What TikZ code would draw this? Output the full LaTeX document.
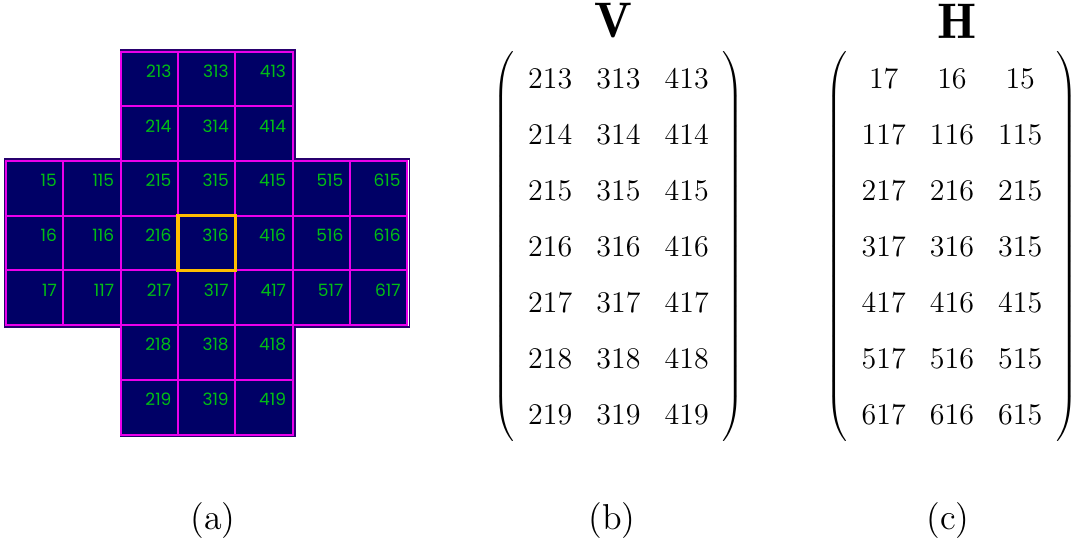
\documentclass[tikz,border=0pt]{standalone}
\usepackage{fontspec}
\usetikzlibrary{matrix}
\newfontfamily\cellfont{Poppins}
\definecolor{gridbg}{RGB}{0,0,102}
\definecolor{gridline}{RGB}{235,0,235}
\definecolor{gridtxt}{RGB}{0,190,20}
\definecolor{gridedge}{RGB}{40,0,110}
\definecolor{hilite}{RGB}{255,190,0}
\tikzset{
  cell/.style={draw=gridline, fill=gridbg, line width=0.8pt, inner sep=0pt, outer sep=0pt,
    minimum width=22.92pt, minimum height=21.88pt},
  celllbl/.style={text=gridtxt, font=\cellfont\fontsize{6.8}{8}\selectfont, inner sep=0pt, anchor=base east},
  every left delimiter/.style={xshift=4pt},
  every right delimiter/.style={xshift=-4pt},
  mat/.style={matrix of math nodes, row sep=6.4pt, column sep=0pt,
    left delimiter=(, right delimiter=),
    nodes={inner sep=0pt, minimum height=16pt, minimum width=27.3pt,
      font=\fontsize{12}{14}\selectfont}},
  ttl/.style={font=\fontsize{20}{24}\selectfont},
  subcap/.style={font=\fontsize{14.4}{17}\selectfont}
}
\begin{document}
\begin{tikzpicture}[x=0.4pt, y=-0.4pt]
  \useasboundingbox (0,0) rectangle (1074,546);
  % (a) the neighbourhood grid
  \draw[gridedge, line width=0.6pt] (120.5,50.2) rectangle (295,436);
  \draw[gridedge, line width=0.6pt] (4.8,159.2) rectangle (409.5,327);
  \foreach \i in {2,3,4}
    \foreach \j in {0,...,6}
      \node[cell] (c-\i-\j) at ({6+57.3*(\i+0.5)},{51.7+54.7*(\j+0.5)}) {};
  \foreach \i in {0,1,5,6}
    \foreach \j in {2,3,4}
      \node[cell] (c-\i-\j) at ({6+57.3*(\i+0.5)},{51.7+54.7*(\j+0.5)}) {};
  \foreach \i in {0,...,6}
    \foreach \j in {0,...,6}{
      \pgfmathtruncatemacro\inarm{(\i>1 && \i<5) || (\j>1 && \j<5)}
      \ifnum\inarm=1
        \pgfmathtruncatemacro\lab{100*\i+13+\j}
        \node[celllbl] (l-\i-\j) at ([xshift=-2.4pt, yshift=-10.3pt]c-\i-\j.north east) {\lab};
      \fi
    }
  \draw[hilite, line width=1.3pt] (c-3-3.north west) rectangle (c-3-3.south east);
  \node[subcap] (capa) at (213,521) {(a)};

  % (b) vertical stack
  \node[ttl] (Vt) at (613,21) {$\mathbf{V}$};
  \matrix (V) [mat] at (618.5,246.5) {
    213 & 313 & 413 \\
    214 & 314 & 414 \\
    215 & 315 & 415 \\
    216 & 316 & 416 \\
    217 & 317 & 417 \\
    218 & 318 & 418 \\
    219 & 319 & 419 \\
  };
  \node[subcap] (capb) at (612,521) {(b)};

  % (c) horizontal stack
  \node[ttl] (Ht) at (957,21) {$\mathbf{H}$};
  \matrix (H) [mat] at (952,246.5) {
    17 & 16 & 15 \\
    117 & 116 & 115 \\
    217 & 216 & 215 \\
    317 & 316 & 315 \\
    417 & 416 & 415 \\
    517 & 516 & 515 \\
    617 & 616 & 615 \\
  };
  \node[subcap] (capc) at (948,521) {(c)};
\end{tikzpicture}
\end{document}
